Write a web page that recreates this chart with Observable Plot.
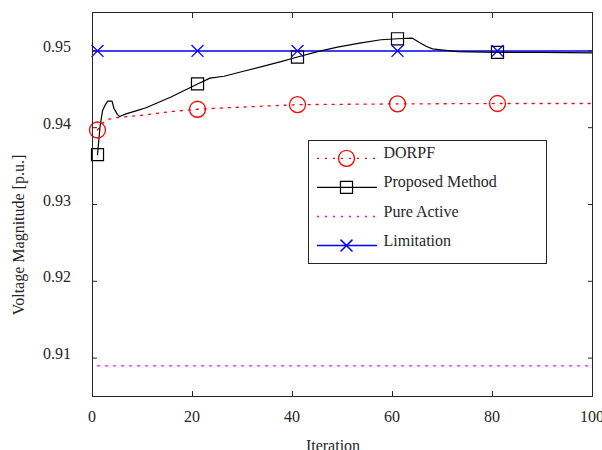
<!DOCTYPE html>
<html><head><meta charset="utf-8">
<script src="https://cdn.jsdelivr.net/npm/d3@7"></script>
<script src="https://cdn.jsdelivr.net/npm/@observablehq/plot@0.6"></script>
<style>body{margin:0;background:#fff;} #chart{width:602px;height:450px;overflow:hidden}
#chart svg text{font-family:'Liberation Serif','Times New Roman',serif !important;}</style>
</head><body><div id="chart"></div>
<script>
// ---- data ----
const markerIters = [1, 21, 41, 61, 81];

const dorpfIter = [1, 2, 3.2, 4.8, 6.3, 8, 9.5, 12, 15.7, 21, 27, 34, 41, 51, 61, 71, 81, 90, 100];
const dorpfV    = [0.9397, 0.9406, 0.9411, 0.9413, 0.9414, 0.9415, 0.9416, 0.9418, 0.9421, 0.9424, 0.9426, 0.9428, 0.9430, 0.94305, 0.9431, 0.94312, 0.94315, 0.94315, 0.94315];

const propIter = [1, 1.5, 2, 2.5, 3, 3.9, 4.3, 5, 5.4, 6.7, 8.7, 10.7, 15.7, 21, 23.5, 26.3, 30, 37.7, 41, 45, 49, 53.7, 57.7, 61, 64, 65.3, 66.7, 68, 69.7, 73, 81, 90, 100];
const propV    = [0.9365, 0.9401, 0.9422, 0.9429, 0.94345, 0.94345, 0.9425, 0.9417, 0.94146, 0.9418, 0.9422, 0.9426, 0.9440, 0.9457, 0.94645, 0.9467, 0.94732, 0.9486, 0.9492, 0.9499, 0.9505, 0.95105, 0.95145, 0.95158, 0.95166, 0.95113, 0.9506, 0.95027, 0.95014, 0.9499, 0.9498, 0.9498, 0.94975];

const pureIter = [1, 100];
const pureV    = [0.909, 0.909];

const limIter = [0, 1, 21, 41, 61, 81, 100];
const limV    = [0.95, 0.95, 0.95, 0.95, 0.95, 0.95, 0.95];

const xTicks = [0, 20, 40, 60, 80, 100];
const yTicks = [0.91, 0.92, 0.93, 0.94, 0.95];
const legendLabels = ["DORPF", "Proposed Method", "Pure Active", "Limitation"];

// ---- build ----
const make = (it, v) => it.map((x, i) => ({x, y: v[i]}));
const dorpf = make(dorpfIter, dorpfV);
const prop = make(propIter, propV);
const pure = make(pureIter, pureV);
const lim = make(limIter, limV);
const marks = arr => arr.filter(d => markerIters.includes(d.x));

const RED = "#ff0000", MAG = "#ff00ff", BLUE = "#0000ff", BLK = "#000000", AX = "#262626";
const DOT = "2,6";
const font = "'Liberation Serif', 'Times New Roman', serif";

const chart = Plot.plot({
  width: 602, height: 450,
  marginLeft: 92, marginRight: 10, marginTop: 12, marginBottom: 54,
  style: {fontFamily: font, fontSize: "16px", color: AX, background: "white"},
  x: {domain: [0, 100]},
  y: {domain: [0.905, 0.955]},
  marks: [
    Plot.line(pure, {x: "x", y: "y", stroke: MAG, strokeWidth: 1.3, strokeDasharray: DOT}),
    Plot.line(lim, {x: "x", y: "y", stroke: BLUE, strokeWidth: 1.5}),
    Plot.line(dorpf, {x: "x", y: "y", stroke: RED, strokeWidth: 1.3, strokeDasharray: DOT}),
    Plot.line(prop, {x: "x", y: "y", stroke: BLK, strokeWidth: 1.2}),
    Plot.dot(marks(dorpf), {x: "x", y: "y", r: 8, stroke: RED, strokeWidth: 1.3, fill: "none"}),
    Plot.dot(marks(prop), {x: "x", y: "y", symbol: "square", r: 6.8, stroke: BLK, strokeWidth: 1.2, fill: "none"}),
    Plot.dot(marks(lim), {x: "x", y: "y", symbol: "times", r: 5.5, stroke: BLUE, strokeWidth: 1.3}),
    Plot.axisX({anchor: "bottom", ticks: xTicks, tickSize: -5, tickFormat: () => "", label: null, stroke: AX}),
    Plot.axisX({anchor: "top", ticks: xTicks, tickSize: -5, tickFormat: () => "", label: null, stroke: AX}),
    Plot.axisY({anchor: "left", ticks: yTicks, tickSize: -5, tickFormat: () => "", label: null, stroke: AX}),
    Plot.axisY({anchor: "right", ticks: yTicks, tickSize: -5, tickFormat: () => "", label: null, stroke: AX}),
    Plot.frame({stroke: AX, strokeWidth: 1})
  ]
});
document.getElementById("chart").appendChild(chart);

// ---- tick labels, axis titles & legend ----
const svg = d3.select(chart);
const sx = chart.scale("x"), sy = chart.scale("y");
const addText = (x, y, s, anchor) => svg.append("text").attr("x", x).attr("y", y)
  .attr("text-anchor", anchor).attr("fill", AX)
  .style("font-family", font).style("font-size", "16px").text(s);
xTicks.forEach(t => addText(sx.apply(t), 421.5, d3.format("d")(t), "middle"));
yTicks.forEach(t => addText(71, sy.apply(t) + 1.5, d3.format(".2f")(t), "end"));

addText(333, 451, "Iteration", "middle");
svg.append("text").attr("transform", "translate(24,235) rotate(-90)").attr("text-anchor", "middle")
  .attr("fill", AX).style("font-family", font).style("font-size", "16px").text("Voltage Magnitude [p.u.]");

const styles = [
  {stroke: RED, dash: DOT, sw: 1.3, sym: d3.symbolCircle, r: 8},
  {stroke: BLK, dash: null, sw: 1.2, sym: d3.symbolSquare, r: 6.8},
  {stroke: MAG, dash: DOT, sw: 1.3, sym: null, r: 0},
  {stroke: BLUE, dash: null, sw: 1.5, sym: d3.symbolTimes, r: 5.5}
];
const lg = svg.append("g");
lg.append("rect").attr("x", 308.5).attr("y", 140.5).attr("width", 238).attr("height", 123)
  .attr("fill", "white").attr("stroke", AX).attr("stroke-width", 1);
legendLabels.forEach((lab, i) => {
  const y = 158.3 + i * 29.1;
  const s = styles[i];
  lg.append("line").attr("x1", 317).attr("x2", 377).attr("y1", y).attr("y2", y)
    .attr("stroke", s.stroke).attr("stroke-width", s.sw).attr("stroke-dasharray", s.dash);
  if (s.sym) {
    lg.append("path").attr("transform", `translate(346.5,${y})`)
      .attr("d", d3.symbol(s.sym, Math.PI * s.r * s.r)())
      .attr("fill", "none").attr("stroke", s.stroke).attr("stroke-width", s.sw);
  }
  lg.append("text").attr("x", 383.5).attr("y", y).attr("text-anchor", "start").attr("fill", AX)
    .style("font-family", font).style("font-size", "16px").text(lab);
});
</script>
</body></html>
